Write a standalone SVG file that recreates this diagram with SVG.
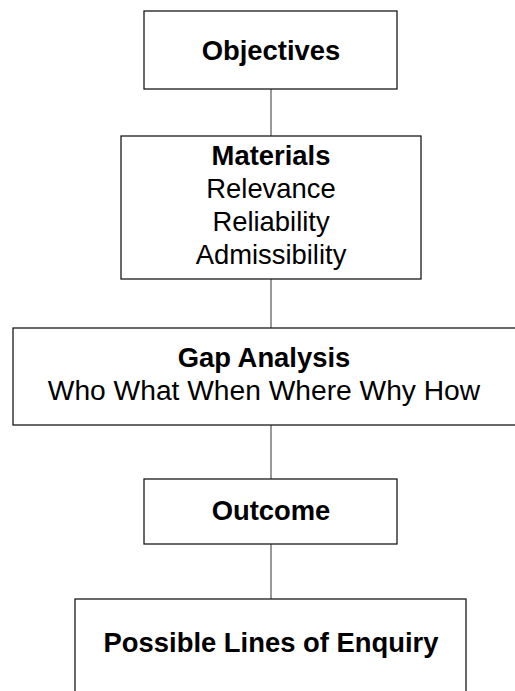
<svg xmlns="http://www.w3.org/2000/svg" width="515" height="691" viewBox="0 0 515 691">
  <style>
    .box { fill: #ffffff; stroke: #1a1a1a; stroke-width: 1.3; }
    .link { stroke: #6e6e6e; stroke-width: 1.4; fill: none; }
    text { font-family: "Liberation Sans", Arial, sans-serif; font-size: 27.4px; fill: #000; text-anchor: middle; }
    .b { font-weight: bold; }
  </style>
  <rect width="515" height="691" fill="#ffffff"/>

  <!-- vertical links between the stages -->
  <g id="connectors">
    <line class="link" x1="271" y1="89" x2="271" y2="136"/>
    <line class="link" x1="271" y1="279" x2="271" y2="328"/>
    <line class="link" x1="271" y1="425" x2="271" y2="479"/>
    <line class="link" x1="271" y1="544" x2="271" y2="599"/>
  </g>

  <g id="objectives">
    <rect class="box" x="144" y="11" width="253" height="78"/>
    <text class="b" x="271" y="60">Objectives</text>
  </g>

  <g id="materials">
    <rect class="box" x="121" y="136" width="300" height="143"/>
    <text class="b" x="271" y="165">Materials</text>
    <text x="271" y="198">Relevance</text>
    <text x="271" y="231">Reliability</text>
    <text x="271" y="264">Admissibility</text>
  </g>

  <g id="gap-analysis">
    <rect class="box" x="13" y="328" width="516" height="97"/>
    <text class="b" x="264" y="367">Gap Analysis</text>
    <text x="264" y="400" style="font-size:28.2px">Who What When Where Why How</text>
  </g>

  <g id="outcome">
    <rect class="box" x="144" y="479" width="253" height="65"/>
    <text class="b" x="271" y="520">Outcome</text>
  </g>

  <g id="lines-of-enquiry">
    <rect class="box" x="75" y="599" width="391" height="110"/>
    <text class="b" x="271" y="652">Possible Lines of Enquiry</text>
  </g>
</svg>
